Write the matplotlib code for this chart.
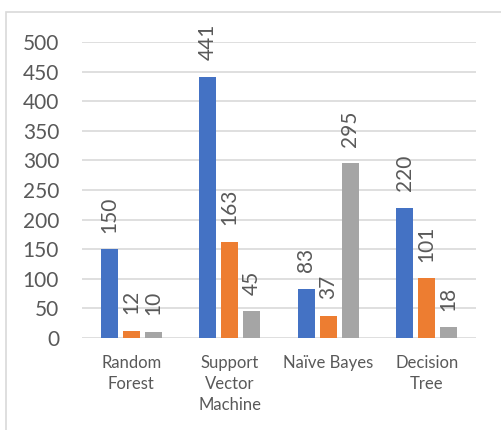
import numpy as np
import matplotlib.pyplot as plt
from matplotlib.patches import Rectangle

plt.rcParams['font.family'] = ['Lato', 'DejaVu Sans']

categories = ["Random\nForest", "Support\nVector\nMachine", "Naïve Bayes", "Decision\nTree"]
series_a = [150, 441, 83, 220]
series_b = [12, 163, 37, 101]
series_c = [10, 45, 295, 18]
colors = ["#4472C4", "#ED7D31", "#A5A5A5"]
text_col = "#595959"

fig = plt.figure(figsize=(5.02, 4.30), dpi=100)
ax = fig.add_axes([82 / 502, 1 - 338 / 430, 394 / 502, 296 / 430])

# chart border like the spreadsheet frame
fig.patches.append(Rectangle((6 / 502, -0.2), 1.2, 1.2 - 12 / 430,
                             transform=fig.transFigure, fill=False,
                             edgecolor="#D9D9D9", lw=1.2))

x = np.arange(len(categories))
w = 0.173
step = 0.223
for i, vals in enumerate([series_a, series_b, series_c]):
    pos = x + (i - 1) * step
    ax.bar(pos, vals, width=w, color=colors[i], zorder=3)
    for p, v in zip(pos, vals):
        ax.annotate(str(v), (p, v), xytext=(0, 12), textcoords="offset points",
                    rotation=90, ha="center", va="bottom", fontsize=15,
                    color=text_col)

ax.set_xlim(-0.5, 3.5)
ax.set_ylim(0, 500)
ax.set_yticks(range(0, 501, 50))
ax.set_xticks(x)
ax.set_xticklabels(categories, linespacing=1.37)
ax.tick_params(axis='y', length=0, pad=16.5, labelsize=15, labelcolor=text_col)
ax.tick_params(axis='x', length=0, pad=12.5, labelsize=12, labelcolor=text_col)
ax.grid(axis='y', color="#D9D9D9", lw=1.2, zorder=0)
for s in ax.spines.values():
    s.set_visible(False)

plt.savefig("out.png", dpi=100)
